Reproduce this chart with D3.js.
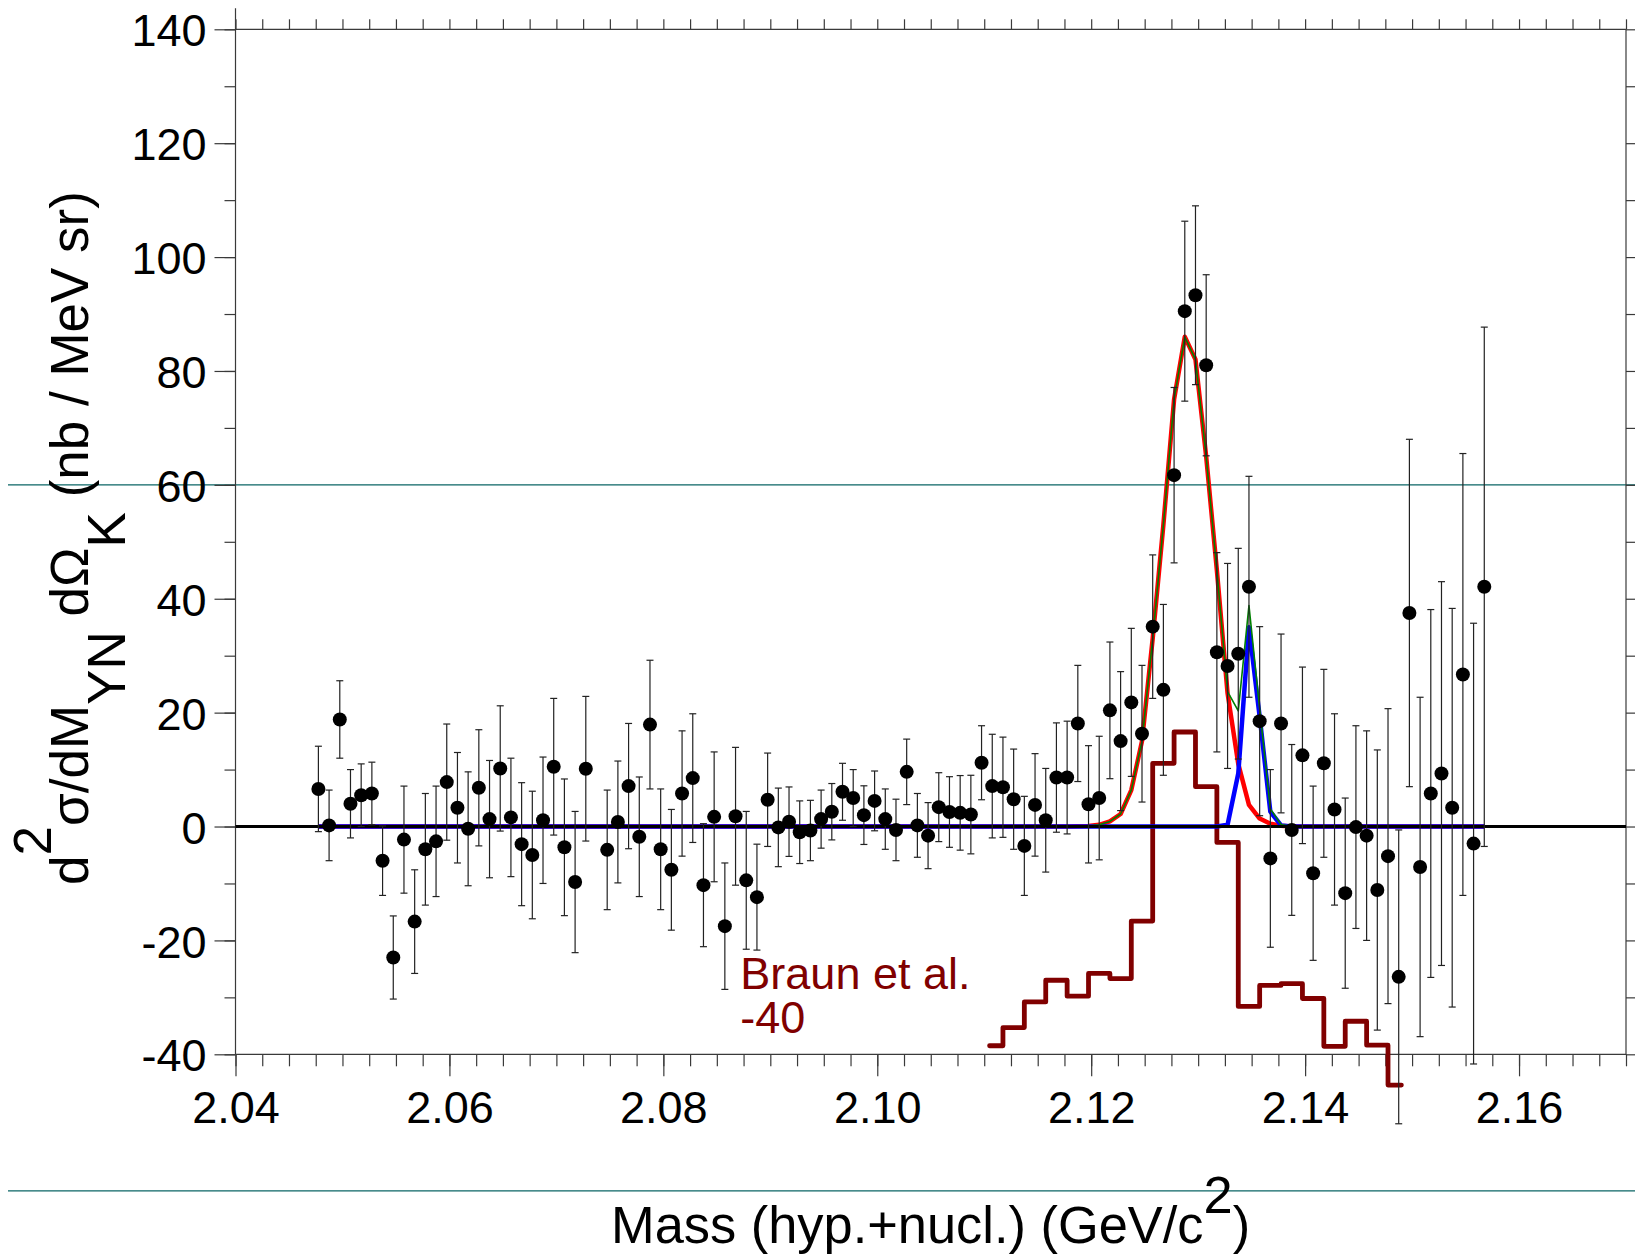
<!DOCTYPE html>
<html><head><meta charset="utf-8">
<script src="https://cdn.jsdelivr.net/npm/d3@7"></script>
<style>
body{margin:0;background:#fff}
svg{display:block}
text{font-family:"Liberation Sans",Arial,Helvetica,sans-serif}
</style>
</head><body>
<svg id="c" width="1635" height="1256"></svg>
<script>
// ---------------- data ----------------
const masses = [
2.04775,2.04875,2.04975,2.05075,2.05175,2.05275,2.05375,2.05475,2.05575,2.05675,
2.05775,2.05875,2.05975,2.06075,2.06175,2.06275,2.06375,2.06475,2.06575,2.06675,
2.06775,2.06875,2.06975,2.07075,2.07175,2.07275,2.07475,2.07575,2.07675,2.07775,
2.07875,2.07975,2.08075,2.08175,2.08275,2.08375,2.08475,2.08575,2.08675,2.08775,
2.08875,2.08975,2.09075,2.09175,2.09275,2.09375,2.09475,2.09575,2.09675,2.09775,
2.09875,2.09975,2.10075,2.10175,2.10275,2.10375,2.10475,2.10575,2.10675,2.10775,
2.10875,2.10975,2.11075,2.11175,2.11275,2.11375,2.11475,2.11575,2.11675,2.11775,
2.11875,2.11975,2.12075,2.12175,2.12275,2.12375,2.12475,2.12575,2.12675,2.12775,
2.12875,2.12975,2.13075,2.13175,2.13275,2.13375,2.13475,2.13575,2.13675,2.13775,
2.13875,2.13975,2.14075,2.14175,2.14275,2.14375,2.14475,2.14575,2.14675,2.14775,
2.14875,2.14975,2.15075,2.15175,2.15275,2.15375,2.15475,2.15575,2.15675];
const xsec = [
6.6,0.2,18.8,4.0,5.5,5.8,-6.0,-23.0,-2.3,-16.7,
-4.0,-2.6,7.8,3.3,-0.4,6.8,1.3,10.2,1.6,-3.1,
-5.0,1.1,10.5,-3.65,-9.75,10.15,-4.1,0.8,7.1,-1.8,
17.9,-4.0,-7.6,5.8,8.5,-10.3,1.7,-17.5,1.8,-9.45,
-12.4,4.7,-0.15,0.85,-1.0,-0.7,1.3,2.6,6.1,5.0,
2.0,4.5,1.3,-0.6,9.6,0.2,-1.6,3.4,2.55,2.4,
2.1,11.2,7.1,6.9,4.8,-3.4,3.8,1.1,8.6,8.6,
18.1,3.9,5.0,20.4,15.0,21.8,16.3,35.1,24.0,61.7,
90.5,93.3,81.0,30.6,28.2,30.35,42.1,18.5,-5.6,18.1,
-0.6,12.5,-8.2,11.1,3.0,-11.7,-0.1,-1.6,-11.15,-5.2,
-26.4,37.5,-7.1,5.8,9.3,3.3,26.7,-3.0,42.1];
const xsecErr = [
7.5,6.2,6.8,6.0,5.5,5.5,6.1,7.3,9.4,9.1,
9.8,9.7,10.2,9.7,10.0,10.2,10.3,11.0,10.4,10.8,
11.2,11.1,12.0,12.0,12.4,12.7,10.5,10.7,11.0,10.5,
11.3,10.6,10.6,11.0,11.3,10.8,11.4,11.1,12.1,12.1,
9.3,8.2,6.9,6.1,5.5,5.3,5.1,4.95,5.0,5.0,
5.15,5.25,5.3,5.4,5.75,5.6,5.8,6.05,6.2,6.55,
6.9,6.5,9.1,8.8,8.8,8.7,9.0,9.1,9.6,9.9,
10.2,10.3,10.85,12.0,12.2,13.0,12.0,12.6,15.0,15.4,
15.8,15.7,15.9,17.5,18.0,18.5,19.4,16.6,15.6,15.7,
15.0,15.5,15.3,16.5,16.8,16.7,17.8,18.4,24.6,25.9,
25.8,30.5,29.8,32.3,33.7,35.0,38.8,38.7,45.6];

// fit curves (evaluated at bin centres)
const fitMass = [2.04775,2.11775,2.11875,2.11975,2.12075,2.12175,2.12275,2.12375,2.12475,2.12575,2.12675,2.12775,
                 2.12875,2.12975,2.13075,2.13175,2.13275,2.13375,2.13475,2.13575,2.13675,2.13775,2.13875,2.15675];
const fitRed  = [0,0,0.05,0.1,0.3,0.9,2.2,6.4,15,33,53,75,86,82,65,45,23.4,11,3.8,1.4,0.5,0.15,0,0];
const fitBlue = [0,0,0,0,0,0,0,0,0,0,0,0,0,0,0,0,0.3,9.3,35,19.3,2.6,0.2,0,0];
const fitSum  = [0,0,0.05,0.1,0.3,0.9,2.2,6.4,15,33,53,75,86,82,65,45,23.7,20.3,38.8,20.7,3.1,0.35,0,0];

// Braun et al. histogram (shifted by -40)
const braunEdges = [2.1105,2.11175,2.11375,2.11575,2.11775,2.11975,2.12175,2.12375,2.12575,2.12775,2.12975,
                    2.13175,2.13375,2.13575,2.13775,2.13975,2.14175,2.14375,2.14575,2.14775,2.1490];
const braunVals  = [-38.5,-35.3,-30.8,-27.0,-29.8,-25.8,-26.7,-16.6,11.1,16.6,7.0,
                    -2.8,-31.6,-27.9,-27.6,-30.2,-38.6,-34.2,-38.4,-45.4];

const xTicks = [2.04,2.06,2.08,2.10,2.12,2.14,2.16];
const xTickLabels = ["2.04","2.06","2.08","2.10","2.12","2.14","2.16"];
const yTicks = [-40,-20,0,20,40,60,80,100,120,140];
const yTickLabels = ["-40","-20","0","20","40","60","80","100","120","140"];
const guideLevels = [60,-64];
const braunLabel = {m:2.0872, lines:["Braun et al.","-40"], v:[-28.6,-36.2]};

// ---------------- drawing ----------------
const W=1635,H=1256;
const svg=d3.select("#c");
const x=d3.scaleLinear().domain([2.04,2.17]).range([235.5,1626]);
const y=d3.scaleLinear().domain([-40,140]).range([1054.3,29.3]);
const X0=x.range()[0], X1=x.range()[1], YB=y.range()[0], YT=y.range()[1];
const axisCol="#3a3a3a";

// guide lines
svg.append("g").selectAll("line").data(guideLevels).join("line")
  .attr("x1",8).attr("x2",W).attr("y1",d=>y(d)).attr("y2",d=>y(d))
  .attr("stroke","#0a6464").attr("stroke-width",1.3);

function styleAxis(g){
  g.select(".domain").remove();
  g.selectAll(".tick line").attr("stroke",axisCol).attr("stroke-width",1.2);
  g.selectAll("text").attr("fill","#000").attr("font-family","'Liberation Sans',Arial,sans-serif");
}
const minorX = d3.range(0,53).map(i=>2.04+i*0.0025);
const minorY = d3.range(-40,141,10);

svg.append("g").attr("transform",`translate(0,${YB})`)
  .call(d3.axisBottom(x).tickValues(minorX).tickSize(12).tickFormat("")).call(styleAxis);
svg.append("g").attr("transform",`translate(0,${YB})`)
  .call(d3.axisBottom(x).tickValues(xTicks).tickSize(22).tickPadding(15).tickFormat((d,i)=>xTickLabels[i]))
  .call(styleAxis).call(g=>g.selectAll("text").attr("font-size",45));
svg.append("g").attr("transform",`translate(0,${YT})`)
  .call(d3.axisTop(x).tickValues(minorX).tickSize(10).tickFormat("")).call(styleAxis);
svg.append("g").attr("transform",`translate(${X0},0)`)
  .call(d3.axisLeft(y).tickValues(minorY).tickSize(11).tickFormat("")).call(styleAxis);
svg.append("g").attr("transform",`translate(${X0},0)`)
  .call(d3.axisLeft(y).tickValues(yTicks).tickSize(21).tickPadding(8).tickFormat((d,i)=>yTickLabels[i]))
  .call(styleAxis).call(g=>g.selectAll("text").attr("font-size",45).attr("dy","0.37em"));
svg.append("g").attr("transform",`translate(${X1},0)`)
  .call(d3.axisRight(y).tickValues(minorY).tickSize(9).tickFormat("")).call(styleAxis);

// frame
const frame=svg.append("g").attr("stroke",axisCol).attr("stroke-width",1.2);
frame.append("line").attr("x1",X0).attr("x2",X0).attr("y1",YT-21).attr("y2",YB);
frame.append("line").attr("x1",X1).attr("x2",X1).attr("y1",YT).attr("y2",YB);
frame.append("line").attr("x1",X0).attr("x2",X1).attr("y1",YT).attr("y2",YT);
frame.append("line").attr("x1",X0).attr("x2",X1).attr("y1",YB).attr("y2",YB);

// Braun histogram
let hp = d3.path();
hp.moveTo(x(braunEdges[0]), y(braunVals[0]));
braunVals.forEach((v,i)=>{
  if(i>0) hp.lineTo(x(braunEdges[i]), y(v));
  hp.lineTo(x(braunEdges[i+1]), y(v));
});
svg.append("path").attr("d",hp.toString()).attr("fill","none")
  .attr("stroke","#800000").attr("stroke-width",4.8).attr("stroke-linejoin","round").attr("stroke-linecap","round");

// fit curves
const fitLine = (vals)=>d3.line().x((d,i)=>x(fitMass[i])).y(d=>y(d))(vals);
svg.append("path").attr("d",fitLine(fitRed)).attr("fill","none").attr("stroke","#ff0000").attr("stroke-width",4.5).attr("stroke-linejoin","round");
svg.append("path").attr("d",fitLine(fitBlue)).attr("fill","none").attr("stroke","#0000ff").attr("stroke-width",4.5).attr("stroke-linejoin","round");
svg.append("path").attr("d",fitLine(fitSum)).attr("fill","none").attr("stroke","#008000").attr("stroke-width",1.6).attr("stroke-linejoin","round");

// zero line
svg.append("line").attr("x1",X0).attr("x2",X1).attr("y1",y(0)).attr("y2",y(0))
  .attr("stroke","#000").attr("stroke-width",3);

// error bars
const pts = masses.map((m,i)=>({m, v:xsec[i], e:xsecErr[i]}));
const eb = svg.append("g").attr("stroke","#222").attr("stroke-width",1.2);
eb.selectAll("line.v").data(pts).join("line").attr("class","v")
  .attr("x1",d=>x(d.m)).attr("x2",d=>x(d.m)).attr("y1",d=>y(d.v-d.e)).attr("y2",d=>y(d.v+d.e));
eb.selectAll("line.t").data(pts).join("line").attr("class","t")
  .attr("x1",d=>x(d.m)-3.5).attr("x2",d=>x(d.m)+3.5).attr("y1",d=>y(d.v+d.e)).attr("y2",d=>y(d.v+d.e));
eb.selectAll("line.b").data(pts).join("line").attr("class","b")
  .attr("x1",d=>x(d.m)-3.5).attr("x2",d=>x(d.m)+3.5).attr("y1",d=>y(d.v-d.e)).attr("y2",d=>y(d.v-d.e));
svg.append("g").selectAll("circle").data(pts).join("circle")
  .attr("cx",d=>x(d.m)).attr("cy",d=>y(d.v)).attr("r",7).attr("fill","#000");

// Braun label
svg.append("g").selectAll("text").data(braunLabel.lines).join("text")
  .attr("x",x(braunLabel.m)).attr("y",(d,i)=>y(braunLabel.v[i]))
  .attr("font-size",45).attr("fill","#800000").text(d=>d);

// x title
const xt = svg.append("text").attr("x",611).attr("y",1243).attr("font-size",52.4).attr("fill","#000");
xt.append("tspan").text("Mass (hyp.+nucl.) (GeV/c");
xt.append("tspan").attr("dy",-30).text("2");
xt.append("tspan").attr("dy",30).text(")");

// y title
const ytl = svg.append("text").attr("transform","translate(88,538) rotate(-90)")
  .attr("text-anchor","middle").attr("font-size",53).attr("fill","#000");
ytl.append("tspan").text("d");
ytl.append("tspan").attr("dy",-37).text("2");
ytl.append("tspan").attr("dy",37).text("σ/dM");
ytl.append("tspan").attr("dy",37).text("YN");
ytl.append("tspan").attr("dy",-37).text(" dΩ");
ytl.append("tspan").attr("dy",37).text("K");
ytl.append("tspan").attr("dy",-37).text(" (nb / MeV sr)");
</script>
</body></html>
